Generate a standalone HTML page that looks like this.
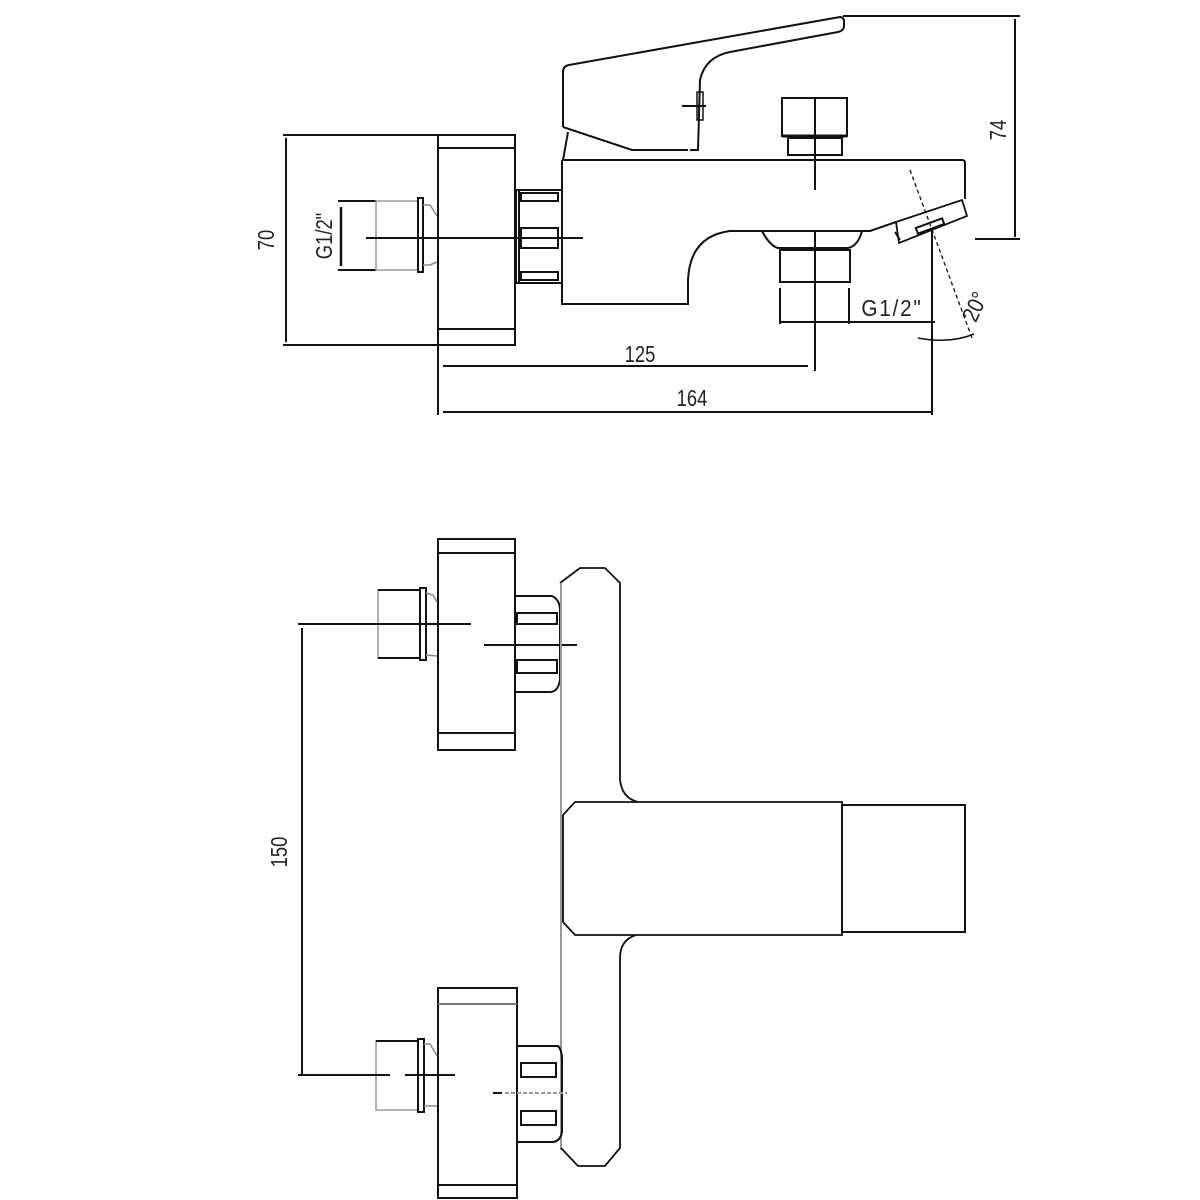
<!DOCTYPE html>
<html><head><meta charset="utf-8"><style>
html,body{margin:0;padding:0;background:#fff}
svg{display:block}
text{font-family:"Liberation Sans",sans-serif;fill:#222}
</style></head><body>
<svg width="1200" height="1200" viewBox="0 0 1200 1200" xmlns="http://www.w3.org/2000/svg">
<g fill="none" stroke="#111" stroke-width="2">
<line x1="283" y1="135" x2="515" y2="135"/>
<line x1="283" y1="345" x2="515" y2="345"/>
<line x1="286" y1="138" x2="286" y2="342"/>
<rect x="438" y="135" width="77" height="210"/>
<line x1="438" y1="148" x2="515" y2="148"/>
<line x1="438" y1="329" x2="515" y2="329"/>
<line x1="438" y1="345" x2="438" y2="415"/>
<line x1="338" y1="201" x2="376" y2="201"/>
<line x1="338" y1="270" x2="376" y2="270"/>
<rect x="376" y="201" width="42" height="69" stroke="#999" stroke-width="1.5"/>
<rect x="418" y="198" width="5" height="74"/>
<path d="M423 205 L430 205 L437 216 M423 265 L430 265 L437 262" stroke="#888" stroke-width="1.5"/>
<line x1="341" y1="207" x2="341" y2="266" stroke-width="2.5"/>
<line x1="366" y1="238" x2="583" y2="238"/>
<rect x="516" y="190" width="46" height="93"/>
<line x1="519" y1="190" x2="519" y2="283"/>
<rect x="521" y="193" width="37" height="8"/>
<rect x="521" y="228" width="37" height="20"/>
<rect x="521" y="272" width="37" height="8"/>
<path d="M562 160 L962 160 Q965 160 965 163 L965 199"/>
<path d="M562 160 L562 304 L688 304 L688 280 Q690 236 730 231 L870 231 L896 222"/>
<path d="M896 222 L962 200 L967 216 L899 243 Z" stroke-width="1.8"/>
<rect x="916" y="223" width="28" height="6" transform="rotate(-20 930 226)"/>
<path d="M895 232 L900 240" />
<path d="M762 231 Q770 246 778 248 L848 248 Q858 246 862 231"/>
<rect x="780" y="250" width="70" height="32"/>
<line x1="815" y1="231" x2="815" y2="371"/>
<line x1="780" y1="288" x2="780" y2="324"/>
<line x1="849" y1="288" x2="849" y2="324"/>
<line x1="780" y1="322" x2="935" y2="322"/>
<rect x="782" y="98" width="65" height="38"/>
<line x1="782" y1="136" x2="847" y2="136" stroke-width="3"/>
<rect x="788" y="138" width="54" height="17"/>
<line x1="815" y1="98" x2="815" y2="190"/>
<path d="M563 127 L563 72 Q563 66 569 65 L840 17 Q844 17 844 22 L844 27 Q843 31 838 32 L730 52 Q705 57 700 80 L698 150 L690 150 M563 127 L632 150 L688 150"/>
<line x1="568" y1="132" x2="563" y2="160"/>
<line x1="682" y1="106" x2="706" y2="106"/>
<rect x="697" y="92" width="6" height="28" stroke-width="1.5"/>
<line x1="843" y1="16" x2="1020" y2="16"/>
<line x1="1015" y1="19" x2="1015" y2="237"/>
<line x1="975" y1="239" x2="1020" y2="239"/>
<line x1="910" y1="170" x2="972" y2="338" stroke-width="1.3" stroke-dasharray="4 3"/>
<line x1="932" y1="230" x2="932" y2="415"/>
<path d="M918 338 Q950 344 974 334" stroke-width="1.5"/>
<line x1="443" y1="366" x2="808" y2="366"/>
<line x1="443" y1="412" x2="932" y2="412"/>

<rect x="438" y="539" width="77" height="211"/>
<line x1="438" y1="553" x2="515" y2="553"/>
<line x1="438" y1="733" x2="515" y2="733"/>
<rect x="378" y="590" width="42" height="68" stroke="#999" stroke-width="1.5"/>
<line x1="378" y1="590" x2="420" y2="590"/>
<line x1="378" y1="658" x2="420" y2="658"/>
<rect x="420" y="588" width="6" height="72"/>
<path d="M426 593 L433 595 L437 602 M426 655 L437 656" stroke="#888" stroke-width="1.5"/>
<line x1="298" y1="624" x2="471" y2="624"/>
<line x1="302" y1="628" x2="302" y2="1076"/>
<path d="M516 596 L552 596 Q560 600 560 610 L560 680 Q558 692 550 692 L516 692"/>
<rect x="517" y="613" width="40" height="11"/>
<rect x="517" y="660" width="40" height="13"/>
<line x1="484" y1="645" x2="577" y2="645"/>
<path d="M560 583 L580 568 L605 568 L620 583 L620 780 Q622 798 638 802" stroke-width="1.8"/>
<line x1="561" y1="583" x2="561" y2="1150" stroke="#999" stroke-width="2"/>
<path d="M575 802 L842 802 L842 935 L575 935 L563 922 L563 815 Z" stroke-width="1.8"/>
<rect x="842" y="805" width="123" height="127"/>
<path d="M636 935 Q620 940 620 958 L620 1148 L605 1166 L578 1166 L561 1148" stroke-width="1.8"/>
<rect x="438" y="988" width="79" height="210"/>
<line x1="438" y1="1004" x2="517" y2="1004" stroke="#777"/>
<line x1="438" y1="1185" x2="517" y2="1185"/>
<rect x="376" y="1041" width="42" height="69" stroke="#999" stroke-width="1.5"/>
<line x1="376" y1="1041" x2="418" y2="1041"/>
<rect x="418" y="1039" width="6" height="73"/>
<path d="M424 1044 L430 1044 L437 1056 M424 1106 L437 1106" stroke="#888" stroke-width="1.5"/>
<line x1="298" y1="1075" x2="390" y2="1075"/>
<line x1="405" y1="1075" x2="455" y2="1075"/>
<path d="M517 1046 L558 1046 Q562 1050 562 1060 L562 1132 Q560 1142 552 1142 L517 1142"/>
<rect x="521" y="1063" width="35" height="14"/>
<rect x="521" y="1111" width="35" height="14"/>
<line x1="493" y1="1093" x2="502" y2="1093"/>
<line x1="505" y1="1093" x2="567" y2="1093" stroke="#999" stroke-dasharray="4 2"/>
</g>
<g font-size="23">
<text transform="translate(274 240) rotate(-90) scale(0.8 1)" text-anchor="middle">70</text>
<text transform="translate(332 236) rotate(-90) scale(0.8 1)" text-anchor="middle" fill="#777">G1/2"</text>
<text transform="translate(1006 130) rotate(-90) scale(0.8 1)" text-anchor="middle">74</text>
<text transform="translate(640 362) scale(0.8 1)" text-anchor="middle">125</text>
<text transform="translate(692 406) scale(0.8 1)" text-anchor="middle">164</text>
<text transform="translate(892 316) scale(0.9 1)" text-anchor="middle" fill="#777" letter-spacing="2">G1/2"</text>
<text transform="translate(982 310) rotate(-65) scale(0.85 1)" text-anchor="middle">20°</text>
<text transform="translate(287 852) rotate(-90) scale(0.8 1)" text-anchor="middle">150</text>
</g>
</svg>
</body></html>
